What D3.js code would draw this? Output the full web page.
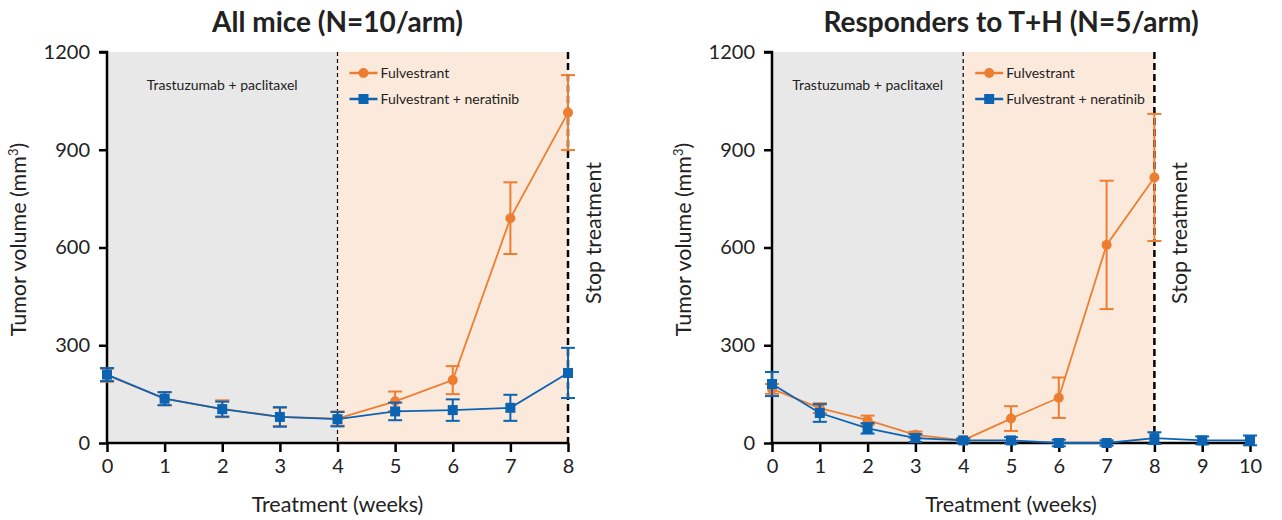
<!DOCTYPE html>
<html>
<head>
<meta charset="utf-8">
<script src="https://cdn.jsdelivr.net/npm/d3@7"></script>
<style>
  body { margin: 0; background: #fff; }
  text { font-family: Lato, "Noto Sans", sans-serif; fill: #222; }
</style>
</head>
<body>
<div id="chart-area"></div>
<script>
// ---- data ----
var yTicks = [0, 300, 600, 900, 1200];

var weeksAll = [0, 1, 2, 3, 4, 5, 6, 7, 8];
var fulvAll    = [208, 136, 105, 80, 75, 128, 193, 690, 1014];
var fulvAllErr = [20, 20, 26, 28, 22, 30, 43, 110, 115];
var neraAll    = [210, 136, 104, 80, 73, 97, 101, 108, 215];
var neraAllErr = [20, 20, 23, 30, 22, 27, 33, 40, 77];

var weeksFulvResp = [0, 1, 2, 3, 4, 5, 6, 7, 8];
var weeksNeraResp = [0, 1, 2, 3, 4, 5, 6, 7, 8, 9, 10];
var fulvResp    = [166, 107, 70, 25, 8, 75, 139, 608, 815];
var fulvRespErr = [15, 15, 14, 10, 5, 38, 62, 197, 195];
var neraResp    = [181, 92, 45, 15, 8, 8, 0, 0, 15, 8, 8];
var neraRespErr = [37, 27, 16, 12, 6, 10, 10, 8, 18, 12, 15];

var orange = "#ed7d31",
    blue   = "#0c63b2";

var svg = d3.select("#chart-area")
            .append("svg")
            .attr("width", 1282)
            .attr("height", 520);

function zip(w, v, e) {
  return w.map(function(d, i) { return { wk: d, v: v[i], e: e[i] }; });
}

function panel(cfg) {
  var height = 391;
  var g = svg.append("g")
             .attr("transform", "translate(" + cfg.left + ",52)");

  var x = d3.scaleLinear().domain([0, cfg.xMax]).range([0, cfg.width]);
  var y = d3.scaleLinear().domain([0, 1200]).range([height, 0]);

  // shaded phases
  g.append("rect")
   .attr("x", x(0)).attr("y", 0)
   .attr("width", x(4) - x(0)).attr("height", height)
   .attr("fill", "#e8e8e8");
  g.append("rect")
   .attr("x", x(4)).attr("y", 0)
   .attr("width", x(8) - x(4)).attr("height", height)
   .attr("fill", "#fbeadc");

  g.append("text")
   .attr("x", x(2)).attr("y", 38)
   .attr("text-anchor", "middle")
   .style("font-size", "14px")
   .text("Trastuzumab + paclitaxel");

  // phase boundaries
  g.append("line")
   .attr("x1", x(4)).attr("x2", x(4)).attr("y1", 0).attr("y2", height)
   .attr("stroke", "#000").attr("stroke-width", 1.2)
   .attr("stroke-dasharray", "4,3");
  g.append("line")
   .attr("x1", x(8)).attr("x2", x(8)).attr("y1", 0).attr("y2", height)
   .attr("stroke", "#000").attr("stroke-width", 2.5)
   .attr("stroke-dasharray", "7,4");

  g.append("text")
   .attr("transform", "translate(" + (x(8) + 33) + "," + 181 + ") rotate(-90)")
   .attr("text-anchor", "middle")
   .style("font-size", "21.5px")
   .text("Stop treatment");

  // axes
  var xAxis = g.append("g")
               .attr("transform", "translate(0," + height + ")")
               .call(d3.axisBottom(x).ticks(cfg.xMax).tickSize(9).tickPadding(7));
  var yAxis = g.append("g")
               .call(d3.axisLeft(y).tickValues(yTicks).tickFormat(d3.format("d"))
                       .tickSize(8).tickPadding(9));

  [xAxis, yAxis].forEach(function(a) {
    a.select(".domain").attr("stroke", "#000").attr("stroke-width", 2.5);
    a.selectAll(".tick line").attr("stroke", "#000").attr("stroke-width", 2.5);
    a.selectAll(".tick text").style("font-size", "20px").attr("fill", "#222");
  });
  yAxis.select(".domain").attr("d", "M-8,0H0V" + height);
  xAxis.select(".domain").attr("d", "M0,0H" + cfg.width);

  g.append("text")
   .attr("x", cfg.width / 2).attr("y", height + 69)
   .attr("text-anchor", "middle")
   .style("font-size", "21.5px")
   .text("Treatment (weeks)");

  var yl = g.append("text")
            .attr("transform", "translate(-81," + (height / 2 - 8) + ") rotate(-90)")
            .attr("text-anchor", "middle")
            .style("font-size", "21.5px");
  yl.append("tspan").text("Tumor volume (mm");
  yl.append("tspan").attr("dy", -8).style("font-size", "13px").text("3");
  yl.append("tspan").attr("dy", 8).text(")");

  svg.append("text")
     .attr("x", cfg.left + cfg.width / 2).attr("y", 32)
     .attr("text-anchor", "middle")
     .style("font-size", "28px").style("font-weight", "bold")
     .attr("fill", "#000")
     .text(cfg.title);

  // series
  function series(data, color, shape) {
    var s = g.append("g");
    s.append("path")
     .datum(data)
     .attr("fill", "none").attr("stroke", color).attr("stroke-width", 1.8)
     .attr("d", d3.line().x(function(d) { return x(d.wk); }).y(function(d) { return y(d.v); }));

    var eb = s.selectAll(".eb").data(data).enter().append("g")
              .attr("stroke", color).attr("stroke-width", 2);
    eb.append("line")
      .attr("x1", function(d) { return x(d.wk); }).attr("x2", function(d) { return x(d.wk); })
      .attr("y1", function(d) { return y(d.v - d.e); }).attr("y2", function(d) { return y(d.v + d.e); });
    eb.append("line")
      .attr("x1", function(d) { return x(d.wk) - 7; }).attr("x2", function(d) { return x(d.wk) + 7; })
      .attr("y1", function(d) { return y(d.v + d.e); }).attr("y2", function(d) { return y(d.v + d.e); });
    eb.append("line")
      .attr("x1", function(d) { return x(d.wk) - 7; }).attr("x2", function(d) { return x(d.wk) + 7; })
      .attr("y1", function(d) { return y(d.v - d.e); }).attr("y2", function(d) { return y(d.v - d.e); });

    if (shape === "circle") {
      s.selectAll(".pt").data(data).enter().append("circle")
       .attr("cx", function(d) { return x(d.wk); })
       .attr("cy", function(d) { return y(d.v); })
       .attr("r", 5).attr("fill", color);
    } else {
      s.selectAll(".pt").data(data).enter().append("rect")
       .attr("x", function(d) { return x(d.wk) - 5; })
       .attr("y", function(d) { return y(d.v) - 5; })
       .attr("width", 10).attr("height", 10).attr("fill", color);
    }
  }
  series(cfg.fulv, orange, "circle");
  series(cfg.nera, blue, "square");

  // legend
  var lg = g.append("g").attr("transform", "translate(" + (x(4) + 12) + ",21)");
  var items = [["Fulvestrant", orange, "circle"], ["Fulvestrant + neratinib", blue, "square"]];
  items.forEach(function(it, i) {
    var row = lg.append("g").attr("transform", "translate(0," + (i * 26) + ")");
    row.append("line").attr("x1", 0).attr("x2", 28).attr("stroke", it[1]).attr("stroke-width", 2.5);
    if (it[2] === "circle") {
      row.append("circle").attr("cx", 14).attr("r", 5).attr("fill", it[1]);
    } else {
      row.append("rect").attr("x", 9).attr("y", -5).attr("width", 10).attr("height", 10).attr("fill", it[1]);
    }
    row.append("text").attr("x", 31).attr("y", 5)
       .style("font-size", "14px").text(it[0]);
  });
}

panel({
  left: 107, width: 461, xMax: 8,
  title: "All mice (N=10/arm)",
  fulv: zip(weeksAll, fulvAll, fulvAllErr),
  nera: zip(weeksAll, neraAll, neraAllErr)
});

panel({
  left: 772, width: 478, xMax: 10,
  title: "Responders to T+H (N=5/arm)",
  fulv: zip(weeksFulvResp, fulvResp, fulvRespErr),
  nera: zip(weeksNeraResp, neraResp, neraRespErr)
});
</script>
</body>
</html>
